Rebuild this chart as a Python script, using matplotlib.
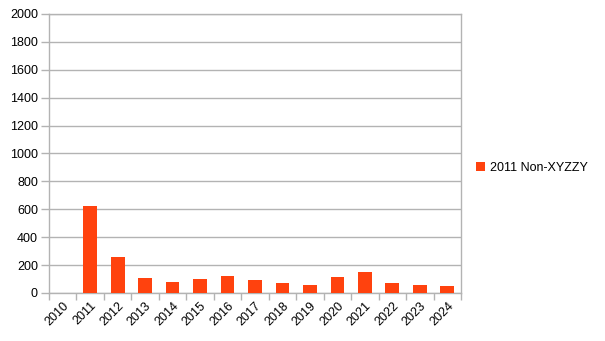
import numpy as np
import matplotlib.pyplot as plt
from matplotlib.ticker import FixedLocator

plt.rcParams['font.family'] = ['Liberation Sans', 'DejaVu Sans']

years = ['2010', '2011', '2012', '2013', '2014', '2015', '2016', '2017',
         '2018', '2019', '2020', '2021', '2022', '2023', '2024']
values = [0, 622, 255, 107, 81, 98, 124, 95, 71, 55, 117, 152, 69, 55, 48]
series_name = '2011 Non-XYZZY'

grid_col = '#b3b3b3'

fig = plt.figure(figsize=(6.05, 3.41), dpi=100)
ax = fig.add_axes([0.081, 0.141, 0.681, 0.818])

x = np.arange(len(years))
ax.bar(x, values, width=0.5, color='#ff420e', label=series_name, zorder=3)

ax.set_xlim(-0.5, len(years) - 0.5)
ax.set_ylim(0, 2000)
ax.set_yticks(np.arange(0, 2001, 200))
ax.yaxis.grid(True, color=grid_col, linewidth=1, zorder=0)

ax.set_xticks(x)
ax.set_xticklabels(years, rotation=45, ha='right', rotation_mode='anchor')
ax.xaxis.set_minor_locator(FixedLocator(np.arange(-0.5, len(years), 1)))
ax.tick_params(axis='x', which='major', length=0, pad=5, labelsize=9)
ax.tick_params(axis='x', which='minor', length=5, color=grid_col, width=1)
ax.tick_params(axis='y', length=6, color=grid_col, width=1, labelsize=9, pad=2)

for s in ax.spines.values():
    s.set_color(grid_col)
    s.set_linewidth(1)

ax.legend(loc='center left', bbox_to_anchor=(1.01, 0.448), frameon=False,
          fontsize=9, handlelength=0.65, handleheight=0.65, handletextpad=0.4)

fig.savefig('out.png', dpi=100)
